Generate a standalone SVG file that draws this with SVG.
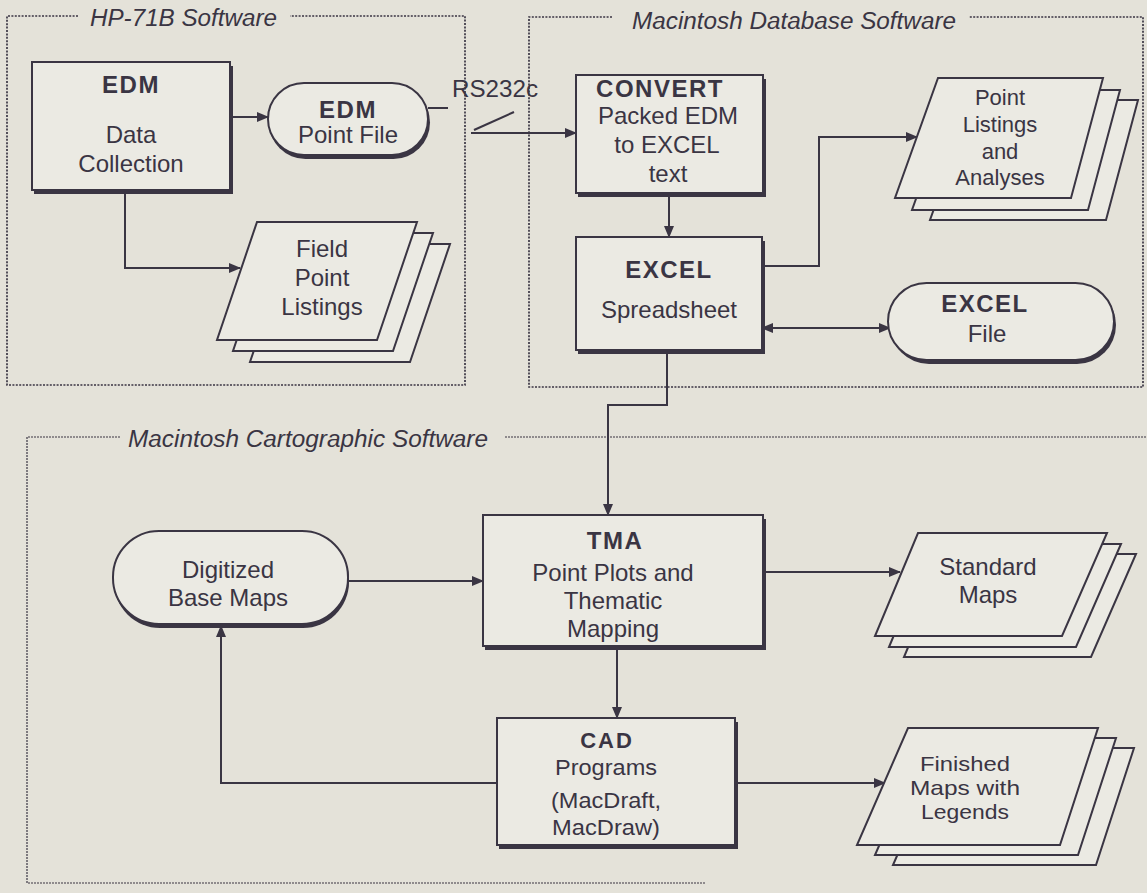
<svg xmlns="http://www.w3.org/2000/svg" width="1147" height="893" viewBox="0 0 1147 893">
  <defs>
    <marker id="arr" markerUnits="userSpaceOnUse" markerWidth="12" markerHeight="10" refX="11" refY="5" orient="auto-start-reverse">
      <path d="M0,0 L12,5 L0,10 z" fill="#3a3543"/>
    </marker>
    <style>
      .bg { fill: #e4e2d9; }
      .grp { fill: none; stroke: #3a3543; stroke-width: 1.7; stroke-dasharray: 2 1.4; }
      .grp2 { fill: none; stroke: #3a3543; stroke-width: 1.2; stroke-dasharray: 2 1; }
      .box { fill: #ebeae3; stroke: #3a3543; stroke-width: 2; }
      .shadow { fill: #3a3543; stroke: none; }
      .sheet { fill: #ebeae3; stroke: #3a3543; stroke-width: 2; stroke-linejoin: miter; }
      .conn { fill: none; stroke: #3a3543; stroke-width: 2; }
      text { font-family: "Liberation Sans", Arial, sans-serif; fill: #3a3543; }
      .t { font-size: 24px; text-anchor: middle; }
      .s { font-size: 22px; text-anchor: middle; }
      .f { font-size: 21px; text-anchor: middle; }
      .b { font-size: 24px; font-weight: bold; text-anchor: middle; letter-spacing: 1.5px; }
      .bs { font-size: 22px; font-weight: bold; text-anchor: middle; letter-spacing: 2px; }
      .title { font-size: 23px; font-style: italic; }
    </style>
  </defs>

  <rect class="bg" x="0" y="0" width="1147" height="893"/>

  <!-- group frames -->
  <g id="hp71b-frame">
    <path class="grp" d="M78,16 L7,16 L7,385 L465,385 L465,16 L290,16"/>
    <text class="title" x="90" y="26" textLength="187" lengthAdjust="spacingAndGlyphs">HP-71B Software</text>
  </g>
  <g id="macdb-frame">
    <path class="grp" d="M612,17 L529,17 L529,387 L1143,387 L1143,17 L969,17"/>
    <text class="title" x="632" y="29" textLength="324" lengthAdjust="spacingAndGlyphs">Macintosh Database Software</text>
  </g>
  <g id="maccarto-frame">
    <path class="grp2" d="M120,437 L27,437 L27,883 L705,883"/>
    <path class="grp2" d="M505,437 L1147,437"/>
    <text class="title" x="128" y="447" textLength="360" lengthAdjust="spacingAndGlyphs">Macintosh Cartographic Software</text>
  </g>

  <!-- connectors -->
  <g id="connectors">
    <path class="conn" d="M230,117 L268,117" marker-end="url(#arr)"/>
    <path class="conn" d="M125,190 L125,268 L240,268" marker-end="url(#arr)"/>
    <path class="conn" d="M428,108 L448,108"/>
    <path class="conn" d="M474,130 L514,112"/>
    <path class="conn" d="M471,133 L576,133" marker-end="url(#arr)"/>
    <path class="conn" d="M669,193 L669,237" marker-end="url(#arr)"/>
    <path class="conn" d="M762,266 L819,266 L819,137 L917,137" marker-end="url(#arr)"/>
    <path class="conn" d="M762,328 L890,328" marker-start="url(#arr)" marker-end="url(#arr)"/>
    <path class="conn" d="M667,352 L667,405 L608,405 L608,515" marker-end="url(#arr)"/>
    <path class="conn" d="M348,581 L483,581" marker-end="url(#arr)"/>
    <path class="conn" d="M763,572 L900,572" marker-end="url(#arr)"/>
    <path class="conn" d="M617,649 L617,718" marker-end="url(#arr)"/>
    <path class="conn" d="M735,783 L885,783" marker-end="url(#arr)"/>
    <path class="conn" d="M497,783 L221,783 L221,626" marker-end="url(#arr)"/>
    <text x="452" y="97" font-size="23" textLength="86" lengthAdjust="spacingAndGlyphs">RS232c</text>
  </g>

  <!-- HP-71B nodes -->
  <g id="edm-collection">
    <rect class="shadow" x="34" y="66" width="199" height="128"/>
    <rect class="box" x="32" y="62" width="198" height="128"/>
    <text class="b" x="131" y="93">EDM</text>
    <text class="t" x="131" y="143">Data</text>
    <text class="t" x="131" y="172">Collection</text>
  </g>
  <g id="edm-point-file">
    <rect class="shadow" x="269" y="86" width="161" height="73" rx="36.5"/>
    <rect class="box" x="268" y="83" width="160" height="72" rx="36"/>
    <text class="b" x="348" y="118">EDM</text>
    <text class="t" x="348" y="143">Point File</text>
  </g>
  <g id="field-point-listings">
    <polygon class="sheet" transform="translate(33,22)" points="257,222 417,222 377,340 217,340"/>
    <polygon class="sheet" transform="translate(16,11)" points="257,222 417,222 377,340 217,340"/>
    <polygon class="sheet" points="257,222 417,222 377,340 217,340"/>
    <text class="t" x="322" y="257">Field</text>
    <text class="t" x="322" y="286">Point</text>
    <text class="t" x="322" y="315">Listings</text>
  </g>

  <!-- Macintosh Database nodes -->
  <g id="convert">
    <rect class="shadow" x="578" y="79" width="188" height="118"/>
    <rect class="box" x="576" y="75" width="187" height="118"/>
    <text class="b" x="660" y="97">CONVERT</text>
    <text class="t" x="668" y="124">Packed EDM</text>
    <text class="t" x="667" y="153">to EXCEL</text>
    <text class="t" x="668" y="182">text</text>
  </g>
  <g id="excel-spreadsheet">
    <rect class="shadow" x="578" y="241" width="187" height="113"/>
    <rect class="box" x="576" y="237" width="186" height="113"/>
    <text class="b" x="669" y="278">EXCEL</text>
    <text class="t" x="669" y="318">Spreadsheet</text>
  </g>
  <g id="point-listings">
    <polygon class="sheet" transform="translate(35,22)" points="938,78 1103,78 1071,198 895,198"/>
    <polygon class="sheet" transform="translate(17,12)" points="938,78 1103,78 1071,198 895,198"/>
    <polygon class="sheet" points="938,78 1103,78 1071,198 895,198"/>
    <text class="s" x="1000" y="105">Point</text>
    <text class="s" x="1000" y="132">Listings</text>
    <text class="s" x="1000" y="159">and</text>
    <text class="s" x="1000" y="185">Analyses</text>
  </g>
  <g id="excel-file">
    <rect class="shadow" x="890" y="286" width="226" height="78" rx="39"/>
    <rect class="box" x="888" y="283" width="226" height="77" rx="38.5"/>
    <text class="b" x="985" y="312">EXCEL</text>
    <text class="t" x="987" y="342">File</text>
  </g>

  <!-- Macintosh Cartographic nodes -->
  <g id="digitized-base-maps">
    <rect class="shadow" x="114" y="533" width="235" height="95" rx="46"/>
    <rect class="box" x="113" y="531" width="235" height="93" rx="46"/>
    <text class="t" x="228" y="578">Digitized</text>
    <text class="t" x="228" y="606">Base Maps</text>
  </g>
  <g id="tma">
    <rect class="shadow" x="485" y="519" width="281" height="131"/>
    <rect class="box" x="483" y="515" width="280" height="131"/>
    <text class="b" x="615" y="549">TMA</text>
    <text class="t" x="613" y="581">Point Plots and</text>
    <text class="t" x="613" y="609">Thematic</text>
    <text class="t" x="613" y="637">Mapping</text>
  </g>
  <g id="standard-maps">
    <polygon class="sheet" transform="translate(29,21)" points="918,533 1107,533 1062,636 875,636"/>
    <polygon class="sheet" transform="translate(14,11)" points="918,533 1107,533 1062,636 875,636"/>
    <polygon class="sheet" points="918,533 1107,533 1062,636 875,636"/>
    <text class="t" x="988" y="575">Standard</text>
    <text class="t" x="988" y="603">Maps</text>
  </g>
  <g id="cad">
    <rect class="shadow" x="499" y="722" width="239" height="127"/>
    <rect class="box" x="497" y="718" width="238" height="127"/>
    <text class="bs" x="607" y="748">CAD</text>
    <text class="s" x="606" y="775" textLength="102" lengthAdjust="spacingAndGlyphs">Programs</text>
    <text class="s" x="606" y="808" textLength="110" lengthAdjust="spacingAndGlyphs">(MacDraft,</text>
    <text class="s" x="606" y="835" textLength="108" lengthAdjust="spacingAndGlyphs">MacDraw)</text>
  </g>
  <g id="finished-maps">
    <polygon class="sheet" transform="translate(36,20)" points="908,728 1098,728 1060,845 857,845"/>
    <polygon class="sheet" transform="translate(18,10)" points="908,728 1098,728 1060,845 857,845"/>
    <polygon class="sheet" points="908,728 1098,728 1060,845 857,845"/>
    <text class="f" x="965" y="771" textLength="90" lengthAdjust="spacingAndGlyphs">Finished</text>
    <text class="f" x="965" y="795" textLength="110" lengthAdjust="spacingAndGlyphs">Maps with</text>
    <text class="f" x="965" y="819" textLength="88" lengthAdjust="spacingAndGlyphs">Legends</text>
  </g>
</svg>
